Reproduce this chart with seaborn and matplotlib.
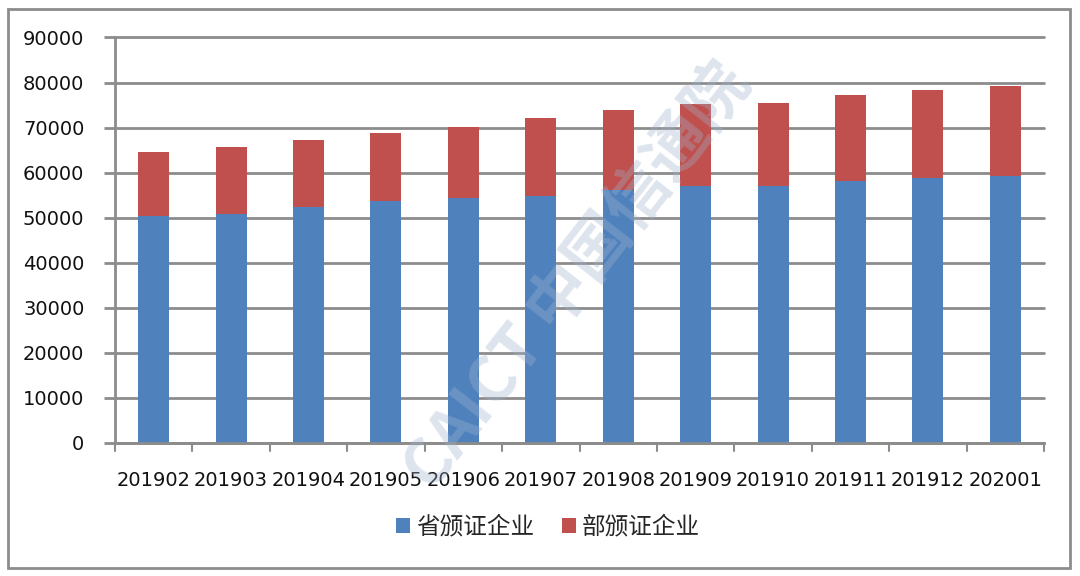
import numpy as np
import pandas as pd
import matplotlib
matplotlib.use('Agg')
import matplotlib.pyplot as plt
import seaborn as sns
from matplotlib.patches import Rectangle

# data
months = ['201902', '201903', '201904', '201905', '201906', '201907',
          '201908', '201909', '201910', '201911', '201912', '202001']
province = [50400, 50900, 52400, 53650, 54400, 54850,
            56250, 57000, 57000, 58150, 58900, 59350]
ministry_total = [64600, 65600, 67200, 68800, 70150, 72200,
                  73850, 75150, 75550, 77300, 78250, 79150]
labels = ['省颁证企业', '部颁证企业']

blue = '#4F81BD'
red = '#C0504D'
grid_gray = '#8C8C8C'

sns.set_theme(style='white')
plt.rcParams['font.family'] = ['Noto Sans CJK SC', 'DejaVu Sans']

df = pd.DataFrame({'month': months, 'province': province,
                   'total': ministry_total})

fig = plt.figure(figsize=(10.8, 5.76), dpi=100)
ax = fig.add_axes([115 / 1080, 1 - 443 / 576, (1044 - 115) / 1080, (443 - 37.5) / 576])

# total bar first (red), then provincial part on top of it (blue)
sns.barplot(data=df, x='month', y='total', color=red, width=0.4,
            saturation=1, ax=ax, label=labels[1], linewidth=0)
sns.barplot(data=df, x='month', y='province', color=blue, width=0.4,
            saturation=1, ax=ax, label=labels[0], linewidth=0)

ax.set_ylim(0, 90000)
ax.set_xlim(-0.5, len(months) - 0.5)
ax.set_yticks(np.arange(0, 90001, 10000))
ax.set_xlabel('')
ax.set_ylabel('')

ax.yaxis.grid(True, color=grid_gray, linewidth=2, clip_on=False)
ax.set_axisbelow(True)
for side in ['top', 'right']:
    ax.spines[side].set_visible(False)
for side in ['left', 'bottom']:
    ax.spines[side].set_color(grid_gray)
    ax.spines[side].set_linewidth(2)

ax.tick_params(axis='y', labelsize=14, length=8, width=2, color=grid_gray,
               left=True, pad=14, labelcolor='#111111')
ax.tick_params(axis='x', labelsize=14, bottom=False, pad=14, labelcolor='#111111')
for lab in ax.get_yticklabels() + ax.get_xticklabels():
    lab.set_family('DejaVu Sans')

# category separator ticks under the axis
for b in np.arange(-0.5, len(months), 1.0):
    ax.plot([b, b], [0, -1800], color=grid_gray, lw=1.5, clip_on=False)

handles, leg_labels = ax.get_legend_handles_labels()
order = [leg_labels.index(labels[0]), leg_labels.index(labels[1])]
fig.legend([handles[i] for i in order], [leg_labels[i] for i in order],
           loc='center', bbox_to_anchor=(548 / 1080, 1 - 527 / 576), ncol=2,
           frameon=False, fontsize=17, handlelength=0.6, handleheight=0.6,
           handletextpad=0.25, columnspacing=1.2)
if ax.get_legend():
    ax.get_legend().remove()

# faint watermark
fig.text(0.535, 0.52, 'CAICT 中国信通院', rotation=52, fontsize=46,
         color='#9FB3CC', alpha=0.35, ha='center', va='center',
         fontweight='bold', zorder=10)

# outer chart border
fig.patches.append(Rectangle((8 / 1080, 1 - 568 / 576), (1070 - 8) / 1080,
                             (568 - 9) / 576, transform=fig.transFigure,
                             fill=False, edgecolor=grid_gray, linewidth=2))

fig.savefig('out.png', dpi=100)
